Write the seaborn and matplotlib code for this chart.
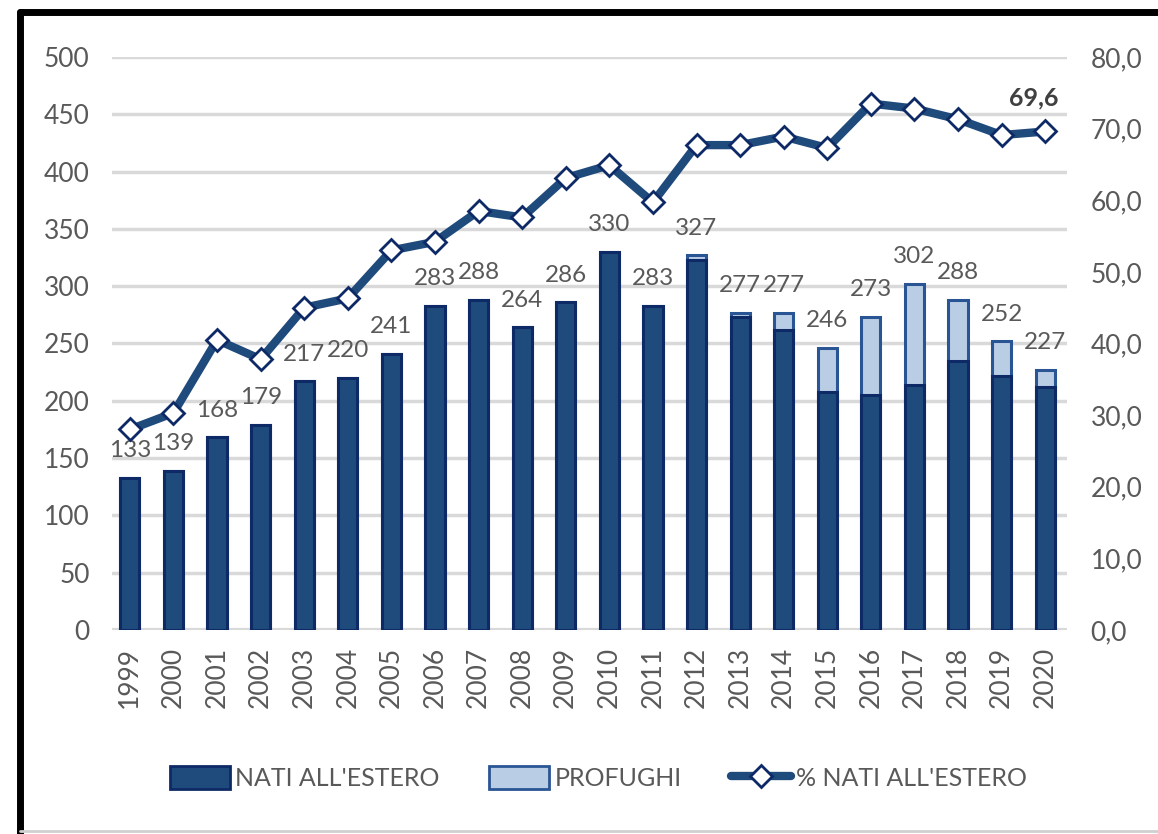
import matplotlib
matplotlib.use("Agg")
import matplotlib.pyplot as plt
import seaborn as sns
import numpy as np
import pandas as pd
from matplotlib.lines import Line2D
from matplotlib.patches import Patch

# data
years = [str(y) for y in range(1999, 2021)]
totals = [133, 139, 168, 179, 217, 220, 241, 283, 288, 264, 286,
          330, 283, 327, 277, 277, 246, 273, 302, 288, 252, 227]
nati_estero = [133, 139, 168, 179, 217, 220, 241, 283, 288, 264, 286,
               330, 283, 323, 273, 262, 208, 205, 214, 235, 222, 212]
pct_nati = [28.0, 30.3, 40.5, 37.8, 45.0, 46.3, 53.0, 54.2, 58.5, 57.6, 63.1,
            64.9, 59.7, 67.7, 67.7, 68.9, 67.3, 73.5, 72.8, 71.3, 69.1, 69.6]

DARK = "#1F4A7C"
DARK_EDGE = "#0E2A66"
LIGHT = "#B9CDE5"
LIGHT_EDGE = "#2A5595"
GRID = "#D9D9D9"
TXT = "#595959"
FONT = ["Lato", "DejaVu Sans"]

sns.set_style("white")
plt.rcParams["font.family"] = FONT

df = pd.DataFrame({"anno": years, "totale": totals, "nati": nati_estero, "pct": pct_nati})

fig = plt.figure(figsize=(11.58, 8.34), dpi=100)
ax = fig.add_axes([112 / 1158, 1 - 630 / 834, (1067 - 112) / 1158, (630 - 57) / 834])

# stacked bars: total (light) underneath, nati all'estero (dark) on top
sns.barplot(data=df, x="anno", y="totale", color=LIGHT, width=0.44,
            edgecolor=LIGHT_EDGE, linewidth=2.2, saturation=1, ax=ax)
sns.barplot(data=df, x="anno", y="nati", color=DARK, width=0.44,
            edgecolor=DARK_EDGE, linewidth=2.2, saturation=1, ax=ax)

ax.set_ylim(0, 500)
ax.set_yticks(np.arange(0, 501, 50))
ax.set_xlim(-0.41, 21.5)
ax.set_axisbelow(True)
ax.grid(axis="y", color=GRID, linewidth=2.5)
for s in ax.spines.values():
    s.set_visible(False)
ax.set_xlabel("")
ax.set_ylabel("")
ax.tick_params(axis="y", length=0, pad=16, labelsize=19, labelcolor=TXT)
ax.tick_params(axis="x", length=0, pad=12, labelsize=19, labelcolor=TXT, rotation=90)

# total labels above bars
for i, t in enumerate(totals):
    ax.annotate(str(t), (i, t), xytext=(0, 12), textcoords="offset points",
                ha="center", va="bottom", fontsize=17.5, color=TXT)

# percentage line on the secondary axis
ax2 = ax.twinx()
sns.lineplot(x=np.arange(len(years)), y=pct_nati, ax=ax2, color=DARK, linewidth=6,
             marker="D", markersize=11, markerfacecolor="white",
             markeredgecolor=DARK_EDGE, markeredgewidth=2, zorder=5)
ax2.set_ylim(0, 80)
ax2.set_yticks(np.arange(0, 81, 10))
ax2.set_yticklabels([f"{v:.1f}".replace(".", ",") for v in np.arange(0, 81, 10)])
ax2.tick_params(axis="y", length=0, pad=17, labelsize=19, labelcolor=TXT)
for s in ax2.spines.values():
    s.set_visible(False)
ax2.annotate(f"{pct_nati[-1]:.1f}".replace(".", ","), (len(years) - 1, pct_nati[-1]),
             xytext=(-8, 16), textcoords="offset points", ha="center", va="bottom",
             fontsize=18, fontweight="bold", color="#404040")

# bottom gridline acts as axis line
ax.axhline(0, color=GRID, linewidth=3, zorder=0.5)

handles = [
    Patch(facecolor=DARK, edgecolor=DARK_EDGE, linewidth=2),
    Patch(facecolor=LIGHT, edgecolor=LIGHT_EDGE, linewidth=2),
    Line2D([], [], color=DARK, linewidth=6, marker="D", markersize=11,
           markerfacecolor="white", markeredgecolor=DARK_EDGE, markeredgewidth=2),
]
labels = ["NATI ALL'ESTERO", "PROFUGHI", "% NATI ALL'ESTERO"]
fig.legend(handles, labels, loc="center", bbox_to_anchor=(0.517, 1 - 778 / 834),
           ncol=3, frameon=False, handlelength=2.4, handleheight=1.0,
           columnspacing=2.0, handletextpad=0.2,
           prop={"size": 18}, labelcolor=TXT)

# screenshot frame
fig.add_artist(Line2D([20 / 1158, 1], [1 - 12 / 834] * 2, color="black", linewidth=5,
                      transform=fig.transFigure))
fig.add_artist(Line2D([20 / 1158] * 2, [0, 1 - 12 / 834], color="black", linewidth=5,
                      transform=fig.transFigure))
fig.add_artist(Line2D([20 / 1158, 1], [3 / 834] * 2, color="#D0D0D0", linewidth=2,
                      transform=fig.transFigure))

fig.savefig("out.png", dpi=100)
